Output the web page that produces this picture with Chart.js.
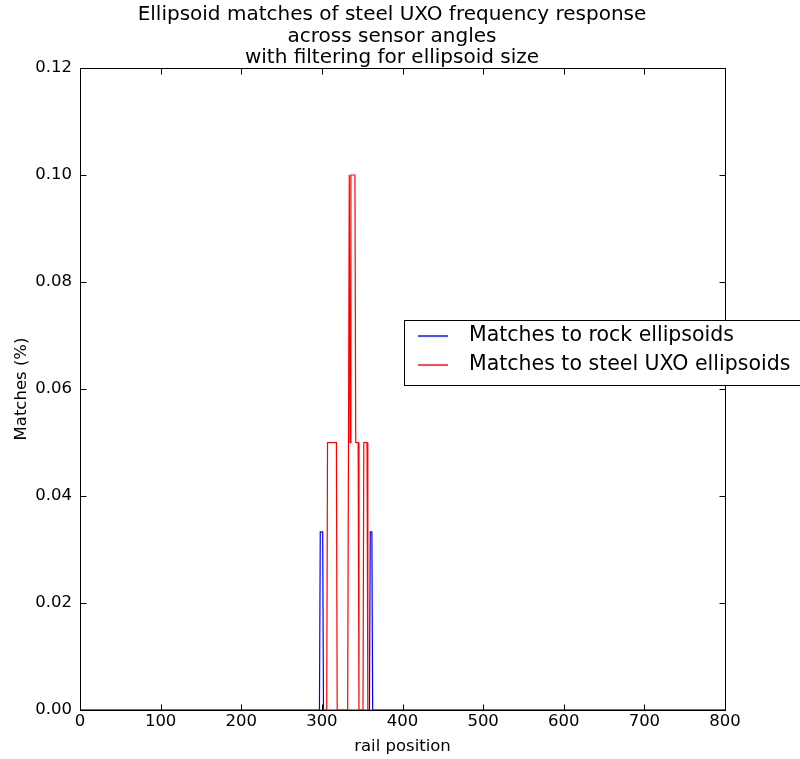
<!DOCTYPE html>
<html>
<head>
<meta charset="utf-8">
<script src="https://cdn.jsdelivr.net/npm/chart.js@4"></script>
<style>
  html, body { margin: 0; padding: 0; background: #fff; }
  #wrap { width: 800px; height: 759px; position: relative; }
</style>
</head>
<body>
<div id="wrap"><canvas id="chart"></canvas></div>
<script>
// data (rail position vs fraction of matches)
const titleLines = ['Ellipsoid matches of steel UXO frequency response', 'across sensor angles', 'with filtering for ellipsoid size'];
const seriesLabels = ['Matches to rock ellipsoids', 'Matches to steel UXO ellipsoids'];
const seriesColors = ['#0000ff', '#ff0000'];
const rockX = [0, 297, 298, 301, 302, 359, 360, 362, 363, 800];
const rockY = [0, 0, 0.0333, 0.0333, 0, 0, 0.0333, 0.0333, 0, 0];
const steelX = [0, 306, 307, 318, 319, 332, 333, 334, 335, 336, 341, 342, 345, 346, 351, 352, 356, 357, 800];
const steelY = [0, 0, 0.05, 0.05, 0, 0, 0.05, 0.1, 0.05, 0.1, 0.1, 0.05, 0.05, 0, 0, 0.05, 0.05, 0, 0];
const xTicks = [0, 100, 200, 300, 400, 500, 600, 700, 800];
const yTicks = [0, 0.02, 0.04, 0.06, 0.08, 0.10, 0.12];

const FONT = 'DejaVu Sans';
const toPoints = (xs, ys) => xs.map((x, i) => ({ x: x, y: ys[i] }));

// title, inner ticks, frame and legend, matplotlib style
const decorPlugin = {
  id: 'decor',
  afterDatasetsDraw(chart) {
    const { ctx, chartArea: a, scales: { x, y } } = chart;
    ctx.save();
    ctx.strokeStyle = '#000';
    ctx.lineWidth = 1;
    const line = (x1, y1, x2, y2) => {
      ctx.beginPath(); ctx.moveTo(x1, y1); ctx.lineTo(x2, y2); ctx.stroke();
    };
    const L = Math.round(a.left) + 0.5, R = Math.round(a.right) + 0.5;
    const T = Math.round(a.top) + 0.5, B = Math.round(a.bottom) + 0.5;
    ctx.strokeRect(L, T, R - L, B - T);
    xTicks.forEach(v => {
      const px = Math.round(x.getPixelForValue(v)) + 0.5;
      line(px, B, px, B - 6);
      line(px, T, px, T + 6);
    });
    yTicks.forEach(v => {
      const py = Math.round(y.getPixelForValue(v)) + 0.5;
      line(L, py, L + 6, py);
      line(R, py, R - 6, py);
    });

    // title
    ctx.fillStyle = '#000';
    ctx.font = '20px "' + FONT + '"';
    ctx.textAlign = 'center';
    ctx.textBaseline = 'middle';
    titleLines.forEach((t, i) => ctx.fillText(t, 392, 15 + i * 21.5));

    // legend box
    ctx.fillStyle = '#fff';
    ctx.fillRect(404, 320, 400, 65);
    ctx.strokeStyle = '#000';
    ctx.strokeRect(404.5, 320.5, 400, 65);
    ctx.textAlign = 'left';
    ctx.font = '20.5px "' + FONT + '"';
    seriesLabels.forEach((lbl, i) => {
      const ly = 336 + i * 29;
      ctx.strokeStyle = seriesColors[i];
      ctx.lineWidth = 1.4;
      line(418, ly, 448, ly);
      ctx.fillStyle = '#000';
      ctx.fillText(lbl, 469, ly);
    });
    ctx.restore();
  }
};

new Chart(document.getElementById('chart'), {
  type: 'line',
  data: {
    datasets: [
      {
        label: seriesLabels[0],
        data: toPoints(rockX, rockY),
        borderColor: seriesColors[0],
        borderWidth: 1.2,
        pointRadius: 0,
        tension: 0,
        order: 1
      },
      {
        label: seriesLabels[1],
        data: toPoints(steelX, steelY),
        borderColor: seriesColors[1],
        borderWidth: 1.2,
        pointRadius: 0,
        tension: 0,
        order: 0
      }
    ]
  },
  options: {
    responsive: true,
    maintainAspectRatio: false,
    animation: false,
    layout: { padding: { top: 68, right: 75, left: 0, bottom: 0 } },
    plugins: {
      legend: { display: false },
      tooltip: { enabled: false }
    },
    scales: {
      x: {
        type: 'linear',
        min: 0,
        max: 800,
        afterFit: (s) => { s.height = 49; },
        afterBuildTicks: (s) => { s.ticks = xTicks.map(v => ({ value: v })); },
        ticks: { color: '#000', font: { family: FONT, size: 16.5 }, padding: 2, maxRotation: 0,
          callback: (v) => String(v) },
        grid: { display: false, drawTicks: false },
        border: { display: false },
        title: { display: true, text: 'rail position', color: '#000',
          font: { family: FONT, size: 16.5 }, padding: { top: 0, bottom: 2 } }
      },
      y: {
        min: 0,
        max: 0.12,
        afterFit: (s) => { s.width = 80; },
        afterBuildTicks: (s) => { s.ticks = yTicks.map(v => ({ value: v })); },
        ticks: { color: '#000', font: { family: FONT, size: 16.5 }, padding: 8,
          callback: (v) => v.toFixed(2) },
        grid: { display: false, drawTicks: false },
        border: { display: false },
        title: { display: true, text: 'Matches (%)', color: '#000',
          font: { family: FONT, size: 16.5 }, padding: { top: 12, bottom: 0 } }
      }
    }
  },
  plugins: [decorPlugin]
});
</script>
</body>
</html>
